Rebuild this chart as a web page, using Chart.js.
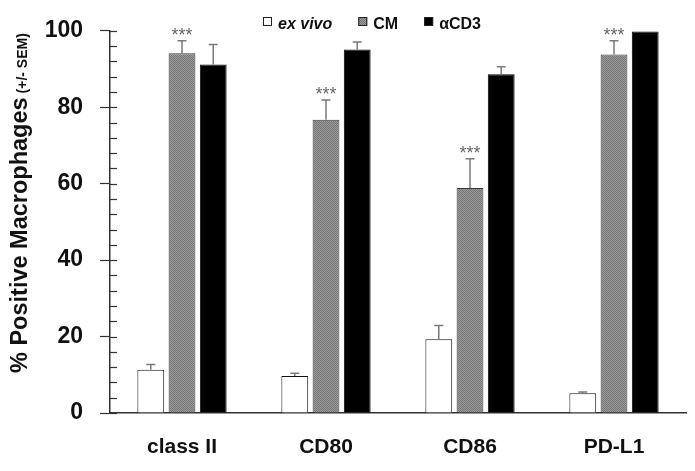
<!DOCTYPE html>
<html>
<head>
<meta charset="utf-8">
<script src="https://cdn.jsdelivr.net/npm/chart.js@4.4.1/dist/chart.umd.min.js"></script>
<style>
  html, body { margin: 0; padding: 0; background: #fff; }
  #wrap { width: 695px; height: 471px; }
</style>
</head>
<body>
<div id="wrap"><canvas id="macro-chart" width="695" height="471"></canvas></div>
<script>
  const markers = ['class II', 'CD80', 'CD86', 'PD-L1'];
  const seriesNames = ['ex vivo', 'CM', 'αCD3'];
  const exVivo = [11.3, 9.7, 19.3, 5.2];
  const exVivoSem = [1.4, 0.7, 3.6, 0.3];
  const cm = [94.1, 76.7, 58.9, 93.8];
  const cmSem = [3.3, 5.2, 7.6, 3.6];
  const cd3 = [91.2, 95.1, 88.6, 99.8];
  const cd3Sem = [5.2, 2.0, 2.0, 0.2];
  const cmStars = ['***', '***', '***', '***'];
  const yTicks = [0, 20, 40, 60, 80, 100];

  const FONT = "'Liberation Sans', Arial, sans-serif";
  const AXIS = '#333';

  // fine dotted grey fill for the CM bars
  function makeGreyPattern() {
    const c = document.createElement('canvas');
    c.width = 2; c.height = 2;
    const g = c.getContext('2d');
    g.fillStyle = '#9c9c9c';
    g.fillRect(0, 0, 2, 2);
    g.fillStyle = '#747474';
    g.fillRect(0, 0, 1, 1);
    g.fillRect(1, 1, 1, 1);
    return g.createPattern(c, 'repeat');
  }
  const greyFill = makeGreyPattern();

  const semBySet = [exVivoSem, cmSem, cd3Sem];

  const extras = {
    id: 'extras',
    afterDatasetsDraw(chart) {
      const ctx = chart.ctx;
      const y = chart.scales.y;
      const area = chart.chartArea;
      ctx.save();
      // inner tick marks
      ctx.strokeStyle = AXIS;
      ctx.lineWidth = 1.2;
      for (let v = 0; v <= 100; v += 4) {
        const py = Math.round(y.getPixelForValue(v)) + 0.5;
        ctx.beginPath();
        ctx.moveTo(area.left, py);
        ctx.lineTo(area.left + 7, py);
        ctx.stroke();
      }
      // error bars (upper only)
      ctx.strokeStyle = '#7a7a7a';
      ctx.lineWidth = 1.5;
      chart.data.datasets.forEach(function (ds, i) {
        const meta = chart.getDatasetMeta(i);
        meta.data.forEach(function (bar, j) {
          const top = y.getPixelForValue(ds.data[j] + semBySet[i][j]);
          if (semBySet[i][j] > 0.25) {
            ctx.beginPath();
            ctx.moveTo(bar.x, bar.y);
            ctx.lineTo(bar.x, top);
            ctx.moveTo(bar.x - 4.5, top);
            ctx.lineTo(bar.x + 4.5, top);
            ctx.stroke();
          }
          if (i === 1) {
            ctx.fillStyle = '#666';
            ctx.font = '18px ' + FONT;
            ctx.textAlign = 'center';
            ctx.textBaseline = 'alphabetic';
            ctx.fillText(cmStars[j], bar.x, top - 0);
          }
        });
      });
      ctx.restore();
    },
    afterDraw(chart) {
      const ctx = chart.ctx;
      ctx.save();
      // y axis title, two sizes
      ctx.translate(27, 373);
      ctx.rotate(-Math.PI / 2);
      ctx.fillStyle = '#111';
      ctx.textAlign = 'left';
      ctx.textBaseline = 'alphabetic';
      ctx.font = 'bold 23.5px ' + FONT;
      const main = '% Positive Macrophages';
      ctx.fillText(main, 0, 0);
      const w = ctx.measureText(main).width;
      ctx.font = 'bold 14px ' + FONT;
      ctx.fillText('(+/- SEM)', w + 4, 0);
      ctx.restore();

      // legend
      ctx.save();
      let x = 263;
      const boxTop = 17, box = 9, base = 29;
      const fills = ['#fff', greyFill, '#000'];
      seriesNames.forEach(function (name, i) {
        ctx.fillStyle = fills[i];
        ctx.fillRect(x, boxTop, box, box);
        ctx.strokeStyle = '#222';
        ctx.lineWidth = 1;
        ctx.strokeRect(x + 0.5, boxTop + 0.5, box - 1, box - 1);
        ctx.fillStyle = '#111';
        ctx.font = (i === 0 ? 'italic bold 16px ' : 'bold 16px ') + FONT;
        ctx.textAlign = 'left';
        ctx.textBaseline = 'alphabetic';
        ctx.fillText(name, x + box + 6, base);
        x += box + 6 + ctx.measureText(name).width + 26;
      });
      ctx.restore();
    }
  };

  new Chart(document.getElementById('macro-chart'), {
    type: 'bar',
    data: {
      labels: markers,
      datasets: [{
        label: seriesNames[0],
        data: exVivo,
        backgroundColor: '#fff',
        borderColor: '#111',
        borderWidth: 1,
        categoryPercentage: 0.65,
        barPercentage: 0.86
      },
      {
        label: seriesNames[1],
        data: cm,
        backgroundColor: greyFill,
        borderColor: '#3a3a3a',
        borderWidth: 1,
        categoryPercentage: 0.65,
        barPercentage: 0.86
      },
      {
        label: seriesNames[2],
        data: cd3,
        backgroundColor: '#000',
        borderColor: '#000',
        borderWidth: 1,
        categoryPercentage: 0.65,
        barPercentage: 0.86
      }]
    },
    options: {
      responsive: false,
      animation: false,
      layout: {
        padding: { top: 26, right: 9, left: 0, bottom: 0 }
      },
      scales: {
        x: {
          grid: { display: false, drawTicks: false },
          border: { display: true, color: AXIS, width: 1.5 },
          ticks: {
            color: '#111',
            padding: 22,
            font: { family: FONT, size: 21, weight: 'bold' }
          },
          afterFit: function (scale) { scale.height = 58; }
        },
        y: {
          min: 0,
          max: 100,
          afterFit: function (scale) { scale.width = 110; },
          afterBuildTicks: function (scale) {
            const t = [];
            for (let v = 0; v <= 100; v += 4) t.push({ value: v });
            scale.ticks = t;
          },
          grid: {
            drawOnChartArea: false,
            tickLength: 10,
            tickWidth: 1.2,
            tickColor: function (c) {
              return yTicks.indexOf(c.tick.value) >= 0 ? AXIS : 'rgba(0,0,0,0)';
            }
          },
          border: { display: true, color: AXIS, width: 1.5 },
          ticks: {
            autoSkip: false,
            color: '#111',
            padding: 17,
            font: { family: FONT, size: 23, weight: 'bold' },
            callback: function (v) { return yTicks.indexOf(v) >= 0 ? v : ''; }
          }
        }
      },
      plugins: {
        legend: { display: false },
        tooltip: { enabled: false }
      }
    },
    plugins: [extras]
  });
</script>
</body>
</html>
